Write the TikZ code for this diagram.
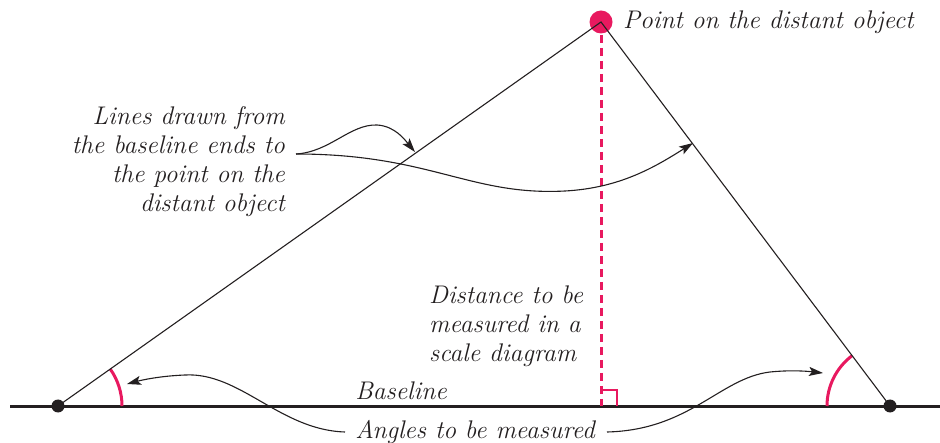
\documentclass[tikz,border=0pt]{standalone}
\usetikzlibrary{arrows.meta}
\definecolor{magred}{RGB}{232,25,95}
\definecolor{ink}{RGB}{35,31,32}
\begin{document}
\begin{tikzpicture}[x=1pt,y=1pt,
  lbl/.style={font=\fontsize{25.5}{29}\selectfont\itshape, text=ink, inner sep=0pt},
  thinline/.style={line width=1.1pt, ink},
  ptr/.style={line width=1.1pt, ink, -{Stealth[length=14pt,width=9pt,inset=3pt]}},
  dot/.style={circle, fill=ink, inner sep=0pt, minimum size=13pt},
  angarc/.style={line width=3pt, magred}
]
\useasboundingbox (0,0) rectangle (940,442);
\coordinate (A) at (58,36);
\coordinate (B) at (890,36);
\coordinate (P) at (601,420);
\coordinate (F) at (601,36);
\coordinate (bl) at (10,36);
\coordinate (br) at (940,36);
% baseline
\draw[line width=3pt, ink] (bl) -- (br);
% dashed perpendicular
\draw[magred, line width=3pt, dash pattern=on 8pt off 5pt] (P) -- (F);
% right angle marker
\draw[magred, line width=2.4pt] ([yshift=16pt]F) -- ++(16,0) -- ++(0,-16);
% angle arcs
\draw[angarc] ([shift={(0:64)}]A) arc[start angle=0, end angle=35.27, radius=64];
\draw[angarc] ([shift={(180:63)}]B) arc[start angle=180, end angle=126.97, radius=63];
% point on object
\node[circle, fill=magred, minimum size=23pt, inner sep=0pt] (Pdot) at (P) {};
% lines to the point
\draw[thinline] (A) -- (P) -- (B);
\node[dot] (Adot) at (A) {};
\node[dot] (Bdot) at (B) {};
% labels
\node[lbl, anchor=west] (ptxt) at (623,420) {Point on the distant object};
\node[lbl, anchor=east, align=right] (lines) at (285,280) {Lines drawn from\\the baseline ends to\\the point on the\\distant object};
\node[lbl, anchor=west, align=left] (dist) at (429,116) {Distance to be\\measured in a\\scale diagram};
\node[lbl] (base) at (401,51) {Baseline};
\node[lbl] (ang) at (475,10) {Angles to be measured};
% pointer curves from lines label
\coordinate (L0) at (296,288);
\coordinate (T1) at (415,290);
\coordinate (T2) at (693,299);
\draw[ptr] (L0) .. controls (330,290) and (350,318) .. (377,317) .. controls (395,316) and (405,302) .. (T1);
\draw[ptr] (L0) .. controls (430,288) and (470,246) .. (565,251) .. controls (620,254) and (655,275) .. (T2);
% pointer curves from angles label
\coordinate (a0) at (345,10);
\coordinate (a1) at (607,10);
\coordinate (T3) at (127,58);
\coordinate (T4) at (823,69);
\draw[ptr] (a0) .. controls (280,12) and (240,70) .. (185,67) .. controls (160,66) and (142,62) .. (T3);
\draw[ptr] (a1) .. controls (690,12) and (720,64) .. (770,70) .. controls (790,72) and (805,71) .. (T4);
\end{tikzpicture}
\end{document}
